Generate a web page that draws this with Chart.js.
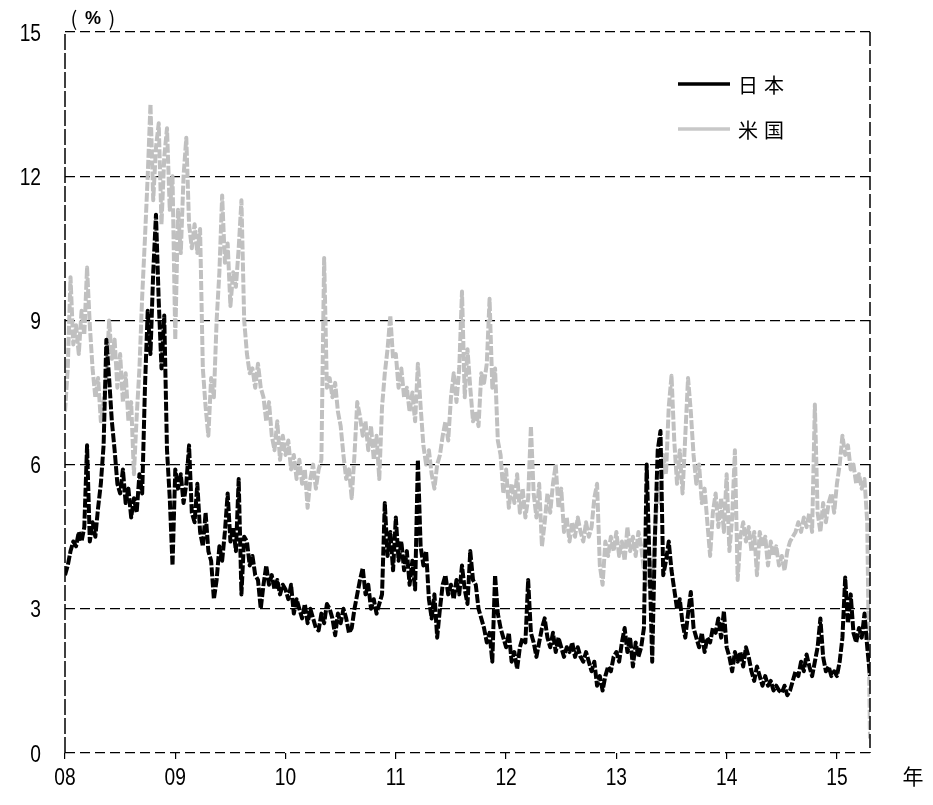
<!DOCTYPE html>
<html>
<head>
<meta charset="utf-8">
<script src="https://cdn.jsdelivr.net/npm/chart.js@4/dist/chart.umd.min.js"></script>
<style>
html,body{margin:0;padding:0;background:#fff;}
#wrap{width:933px;height:805px;position:relative;}
</style>
</head>
<body>
<div id="wrap"><canvas id="c" width="933" height="805"></canvas></div>
<script>
// ---- data ----
const startYear = 2008;      // first observation
const stepYears = 0.025;     // spacing of the sampled observations (years)
const xMax = 2015.3;

const seriesNames = ['日本', '米国'];
const yTicks = [0, 3, 6, 9, 12, 15];
const yTickLabels = ['0', '3', '6', '9', '12', '15'];
const xTickYears = [2008, 2009, 2010, 2011, 2012, 2013, 2014, 2015];
const xTickLabels = ['08', '09', '10', '11', '12', '13', '14', '15'];
const unitLabel = ['(', '%', ')'];
const xUnitLabel = '年';

const japan = [
  // 2008
  3.7,3.9,4.2,4.4,4.3,4.6,4.4,4.7,6.4,4.4, 4.8,4.5,5.1,5.6,6.4,8.6,7.8,6.9,6.3,5.6,
  5.4,5.9,5.2,5.5,4.9,5.3,5.0,5.8,5.4,7.6, 9.2,8.3,10.0,11.2,9.4,8.0,9.1,6.3,5.3,3.9,
  // 2009
  5.9,5.5,5.8,5.2,5.6,6.4,5.0,4.8,5.6,4.6, 4.3,5.0,4.2,4.0,3.2,3.6,4.3,4.0,4.6,5.4,
  4.4,4.7,4.2,5.7,3.3,4.5,4.4,3.9,4.1,3.7, 3.6,3.0,3.5,3.9,3.5,3.7,3.4,3.6,3.3,3.5,
  // 2010
  3.4,3.2,3.5,2.9,3.2,3.0,2.8,3.1,2.7,3.0, 2.8,2.6,2.55,2.9,2.7,3.1,3.0,2.8,2.45,2.9,
  2.7,3.0,2.8,2.5,2.6,3.0,3.3,3.6,3.85,3.3, 3.5,3.0,3.2,2.9,3.1,3.3,5.2,4.1,4.6,3.8,
  // 2011
  4.9,4.0,4.4,3.8,4.2,3.5,4.0,3.4,6.1,4.3, 3.9,4.2,3.2,2.8,3.3,2.4,3.0,3.5,3.7,3.3,
  3.5,3.2,3.6,3.3,3.9,3.4,3.1,4.2,3.6,3.5, 3.0,2.8,2.6,2.3,2.5,1.9,3.7,2.9,2.6,2.4,
  // 2012
  2.2,2.5,1.9,2.1,1.75,2.2,2.4,2.3,3.6,2.5, 2.3,2.0,2.3,2.6,2.8,2.4,2.2,2.5,2.1,2.4,
  2.2,2.0,2.2,2.1,2.3,2.0,2.2,2.0,1.9,2.1, 1.9,1.7,1.9,1.4,1.6,1.3,1.6,1.8,1.7,2.0,
  // 2013
  2.1,1.9,2.3,2.6,2.1,2.4,1.8,2.3,2.0,2.2, 2.6,6.0,4.0,1.9,4.5,6.3,6.7,3.7,4.0,4.4,
  3.8,3.4,3.0,3.2,2.7,2.4,2.9,3.35,2.6,2.4, 2.2,2.5,2.1,2.4,2.3,2.6,2.5,2.8,2.4,2.95,
  // 2014
  2.2,2.0,1.7,2.1,1.9,2.1,1.8,2.2,2.0,1.7, 1.5,1.8,1.6,1.4,1.6,1.4,1.5,1.3,1.4,1.3,
  1.25,1.4,1.2,1.3,1.5,1.7,1.6,1.9,1.7,2.05, 1.8,1.6,1.9,2.2,2.8,2.0,1.7,1.8,1.6,1.7,
  // 2015
  1.6,1.9,2.4,3.65,2.7,3.3,2.5,2.3,2.6,2.4,2.9,2.2,1.6
];

const usa = [
  // 2008
  7.1,8.0,9.9,8.5,8.9,8.3,9.2,8.7,10.1,8.9, 8.0,7.4,7.8,6.9,7.3,7.8,9.0,8.2,8.6,7.6,
  8.3,7.3,7.9,6.9,7.3,5.8,7.0,8.0,9.5,10.7, 12.0,13.5,11.5,12.6,13.1,11.0,12.4,13.0,11.3,12.0,
  // 2009
  8.6,11.3,10.4,12.0,12.8,11.0,10.5,11.0,10.4,10.9, 8.0,7.2,6.6,7.8,7.4,9.0,10.0,11.6,10.2,10.6,
  9.3,10.0,9.7,10.5,11.5,9.0,8.3,7.9,8.0,7.6, 8.1,7.6,7.4,6.9,7.3,6.6,6.3,6.9,6.1,6.6,
  // 2010
  6.2,6.5,5.9,6.2,5.7,6.1,5.6,5.9,5.1,5.7, 6.0,5.5,5.9,6.1,10.3,7.6,7.8,7.4,7.7,7.1,
  6.8,6.2,5.7,5.9,5.3,6.2,7.3,7.0,6.6,6.9, 6.3,6.8,6.1,6.6,5.7,7.2,7.9,8.4,9.1,8.2,
  // 2011
  8.3,7.6,8.0,7.4,7.6,7.1,7.5,6.9,8.1,7.2, 6.4,6.0,6.3,5.8,5.5,6.0,6.2,6.6,6.9,6.5,
  7.4,7.9,7.3,8.0,9.6,7.4,8.4,7.6,6.9,7.1, 6.8,7.9,7.7,8.1,9.45,7.6,8.0,6.5,6.2,5.4,
  // 2012
  5.9,5.1,5.6,5.2,5.8,5.0,5.5,4.9,5.3,6.8, 5.4,4.9,5.6,4.3,4.8,5.4,5.0,5.6,6.0,5.1,
  5.5,4.6,4.9,4.4,4.8,4.5,4.9,4.6,4.4,4.8, 4.5,4.7,5.3,5.6,3.9,3.5,4.4,4.1,4.5,4.2,
  // 2013
  4.6,4.1,4.4,4.0,4.7,4.2,4.5,4.1,4.6,4.3, 3.8,3.5,4.0,3.4,4.6,5.5,5.2,6.2,5.8,7.2,
  7.85,6.5,5.6,6.3,5.4,6.6,7.8,7.1,6.2,5.6, 6.0,5.2,5.5,4.8,4.1,5.0,5.4,4.7,5.3,4.6,
  // 2014
  5.8,4.2,4.9,6.3,3.6,4.5,4.8,4.4,4.7,4.2, 4.6,3.7,4.6,4.3,4.5,3.9,4.4,4.1,4.3,3.9,
  4.1,3.8,4.2,4.4,4.5,4.6,4.8,4.6,4.9,4.7, 5.0,4.6,7.25,5.0,4.6,5.2,4.8,5.2,5.4,5.0,
  // 2015
  5.6,6.0,6.6,6.2,6.4,5.9,6.0,5.6,5.8,5.5,5.7,4.8,0.3
];

const toPoints = arr => arr.map((v, i) => ({ x: +(startYear + i * stepYears).toFixed(3), y: v }));

const numFont = "'Liberation Sans', Arial, sans-serif";
const cjkFont = "'Noto Sans CJK JP', sans-serif";

function narrowText(ctx, txt, x, y, align) {
  ctx.save();
  ctx.translate(x, y);
  ctx.scale(0.8, 1);
  ctx.textAlign = align;
  ctx.textBaseline = 'alphabetic';
  ctx.fillText(txt, 0, 0);
  ctx.restore();
}

const decorPlugin = {
  id: 'decor',
  afterDraw(chart) {
    const { ctx, chartArea: a } = chart;
    const xs = chart.scales.x, ys = chart.scales.y;
    ctx.save();
    // left & right frame (dashed)
    ctx.strokeStyle = '#000';
    ctx.lineWidth = 1.5;
    ctx.setLineDash([16, 3]);
    ctx.beginPath(); ctx.moveTo(a.left, a.bottom); ctx.lineTo(a.left, a.top); ctx.stroke();
    ctx.setLineDash([14, 4]);
    ctx.beginPath(); ctx.moveTo(a.right, a.top); ctx.lineTo(a.right, a.bottom); ctx.stroke();
    ctx.setLineDash([]);

    // tick labels (narrow digits)
    ctx.fillStyle = '#000';
    ctx.font = '24px ' + numFont;
    yTicks.forEach((v, k) => narrowText(ctx, yTickLabels[k], 41, ys.getPixelForValue(v) + 8.5, 'right'));
    xTickYears.forEach((v, k) => narrowText(ctx, xTickLabels[k], xs.getPixelForValue(v), 785, 'center'));

    // legend
    const ds = chart.data.datasets;
    const legY = [84, 129];
    ds.forEach((d, k) => {
      ctx.strokeStyle = k === 0 ? '#000' : '#c8c8c8';
      ctx.lineWidth = 3.5;
      ctx.beginPath(); ctx.moveTo(678, legY[k]); ctx.lineTo(730, legY[k]); ctx.stroke();
      ctx.fillStyle = '#000';
      ctx.font = '20px ' + cjkFont;
      ctx.textBaseline = 'middle';
      ctx.textAlign = 'left';
      Array.from(d.label).forEach((ch, j) => ctx.fillText(ch, 738 + j * 26, legY[k] + 1));
    });

    // unit labels
    ctx.fillStyle = '#000';
    ctx.textAlign = 'center';
    ctx.textBaseline = 'middle';
    ctx.font = '20px ' + cjkFont;
    ctx.fillText(unitLabel[0], 74, 18);
    ctx.fillText(unitLabel[2], 112, 18);
    ctx.font = 'bold 18px ' + numFont;
    ctx.fillText(unitLabel[1], 93, 19);
    ctx.font = '21px ' + cjkFont;
    ctx.fillText(xUnitLabel, 913, 776);
    ctx.restore();
  }
};

new Chart(document.getElementById('c'), {
  type: 'line',
  data: {
    datasets: [
      {
        label: seriesNames[0],
        data: toPoints(japan),
        borderColor: '#000000',
        borderWidth: 4,
        borderDash: [9, 2],
        borderJoinStyle: 'round',
        pointRadius: 0,
        tension: 0,
        order: 0
      },
      {
        label: seriesNames[1],
        data: toPoints(usa),
        borderColor: '#c0c0c0',
        borderWidth: 4,
        borderDash: [9, 2],
        borderJoinStyle: 'round',
        pointRadius: 0,
        tension: 0,
        order: 1
      }
    ]
  },
  options: {
    responsive: false,
    animation: false,
    events: [],
    layout: { padding: { left: 0, top: 32, right: 63, bottom: 0 } },
    plugins: { legend: { display: false }, tooltip: { enabled: false } },
    scales: {
      x: {
        type: 'linear',
        min: startYear,
        max: xMax,
        afterFit(s) { s.height = 52; },
        afterBuildTicks(s) { s.ticks = xTickYears.map(v => ({ value: v })); },
        ticks: { display: false },
        grid: { drawOnChartArea: false, drawTicks: true, tickLength: 6, color: '#000', lineWidth: 1.2 },
        border: { display: false }
      },
      y: {
        min: 0,
        max: 15,
        afterFit(s) { s.width = 65; },
        afterBuildTicks(s) { s.ticks = yTicks.map(v => ({ value: v })); },
        ticks: { display: false },
        grid: { drawTicks: false, color: '#000', lineWidth: 1.2 },
        border: { display: false, dash: [10, 5] }
      }
    }
  },
  plugins: [decorPlugin]
});
</script>
</body>
</html>
